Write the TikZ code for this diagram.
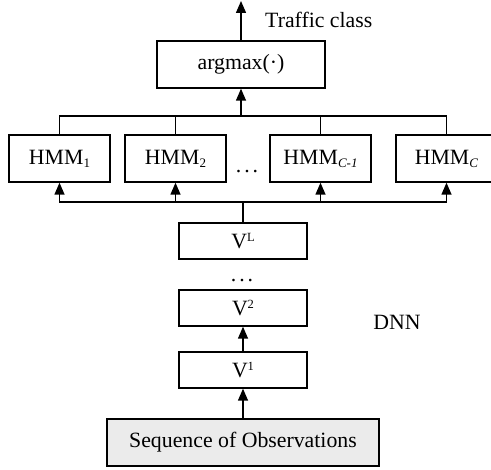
\documentclass[tikz,border=0pt]{standalone}
\usepackage{fontspec}
\setmainfont{Liberation Serif}
\usetikzlibrary{arrows.meta}
\newcommand{\mysup}[1]{\raisebox{7.5pt}{\fontsize{12.5}{13}\selectfont #1}}
\newcommand{\mysub}[1]{\raisebox{-3pt}{\fontsize{13}{13}\selectfont #1}}
\begin{document}
\begin{tikzpicture}[x=1pt,y=-1pt,
  every node/.style={font=\fontsize{21.8}{26}\selectfont, inner sep=0pt},
  box/.style={draw, line width=1.4pt, minimum width=101pt, minimum height=47pt},
  vbox/.style={draw, line width=1.4pt, minimum width=128pt, minimum height=36pt},
  ln/.style={line width=1.4pt},
  arr/.style={line width=1.4pt, -{Triangle[width=10pt,length=12pt]}}]
\useasboundingbox (0,0) rectangle (491,470);
\node[box, minimum width=168pt] (arg) at (241,64.5) {argmax(·)};
\node[box] (h1) at (59.5,158.5) {HMM\mysub{1}};
\node[box] (h2) at (175.5,158.5) {HMM\mysub{2}};
\node[box] (hcm) at (320.5,158.5) {HMM\mysub{\textit{C-1}}};
\node[box] (hc) at (446.5,158.5) {HMM\mysub{\textit{C}}};
\node (hdots) at (247,172) {.\hspace{3pt}.\hspace{3pt}.};
\node[vbox] (vl) at (243,241) {V\mysup{L}};
\node (vdots) at (242,281) {.\hspace{3pt}.\hspace{3pt}.};
\node[vbox] (v2) at (243,308) {V\mysup{2}};
\node[vbox] (v1) at (243,370) {V\mysup{1}};
\node[box, minimum width=272pt, fill=black!8] (seq) at (243,442.5) {Sequence of Observations};
\node (dnn) at (397,322) {DNN};
\node[anchor=west] (tc) at (265,20) {Traffic class};
\coordinate (top) at (241,1);
\coordinate (busT) at (241,116);
\coordinate (busB) at (243,202);
% top
\draw[arr] (arg.north) -- (top);
\draw[ln] (h1.north) |- (busT) -| (hc.north);
\draw[ln] (h2.north) |- (busT);
\draw[ln] (hcm.north) |- (busT);
\draw[arr] (busT) -- (arg.south);
% lower bus
\draw[ln] (vl.north) -- (busB);
\draw[arr] (busB) -| (h1.south);
\draw[arr] (busB) -| (h2.south);
\draw[arr] (busB) -| (hcm.south);
\draw[arr] (busB) -| (hc.south);
% DNN chain
\draw[arr] (v1.north) -- (v2.south);
\draw[arr] (seq.north) -- (v1.south);
\end{tikzpicture}
\end{document}
